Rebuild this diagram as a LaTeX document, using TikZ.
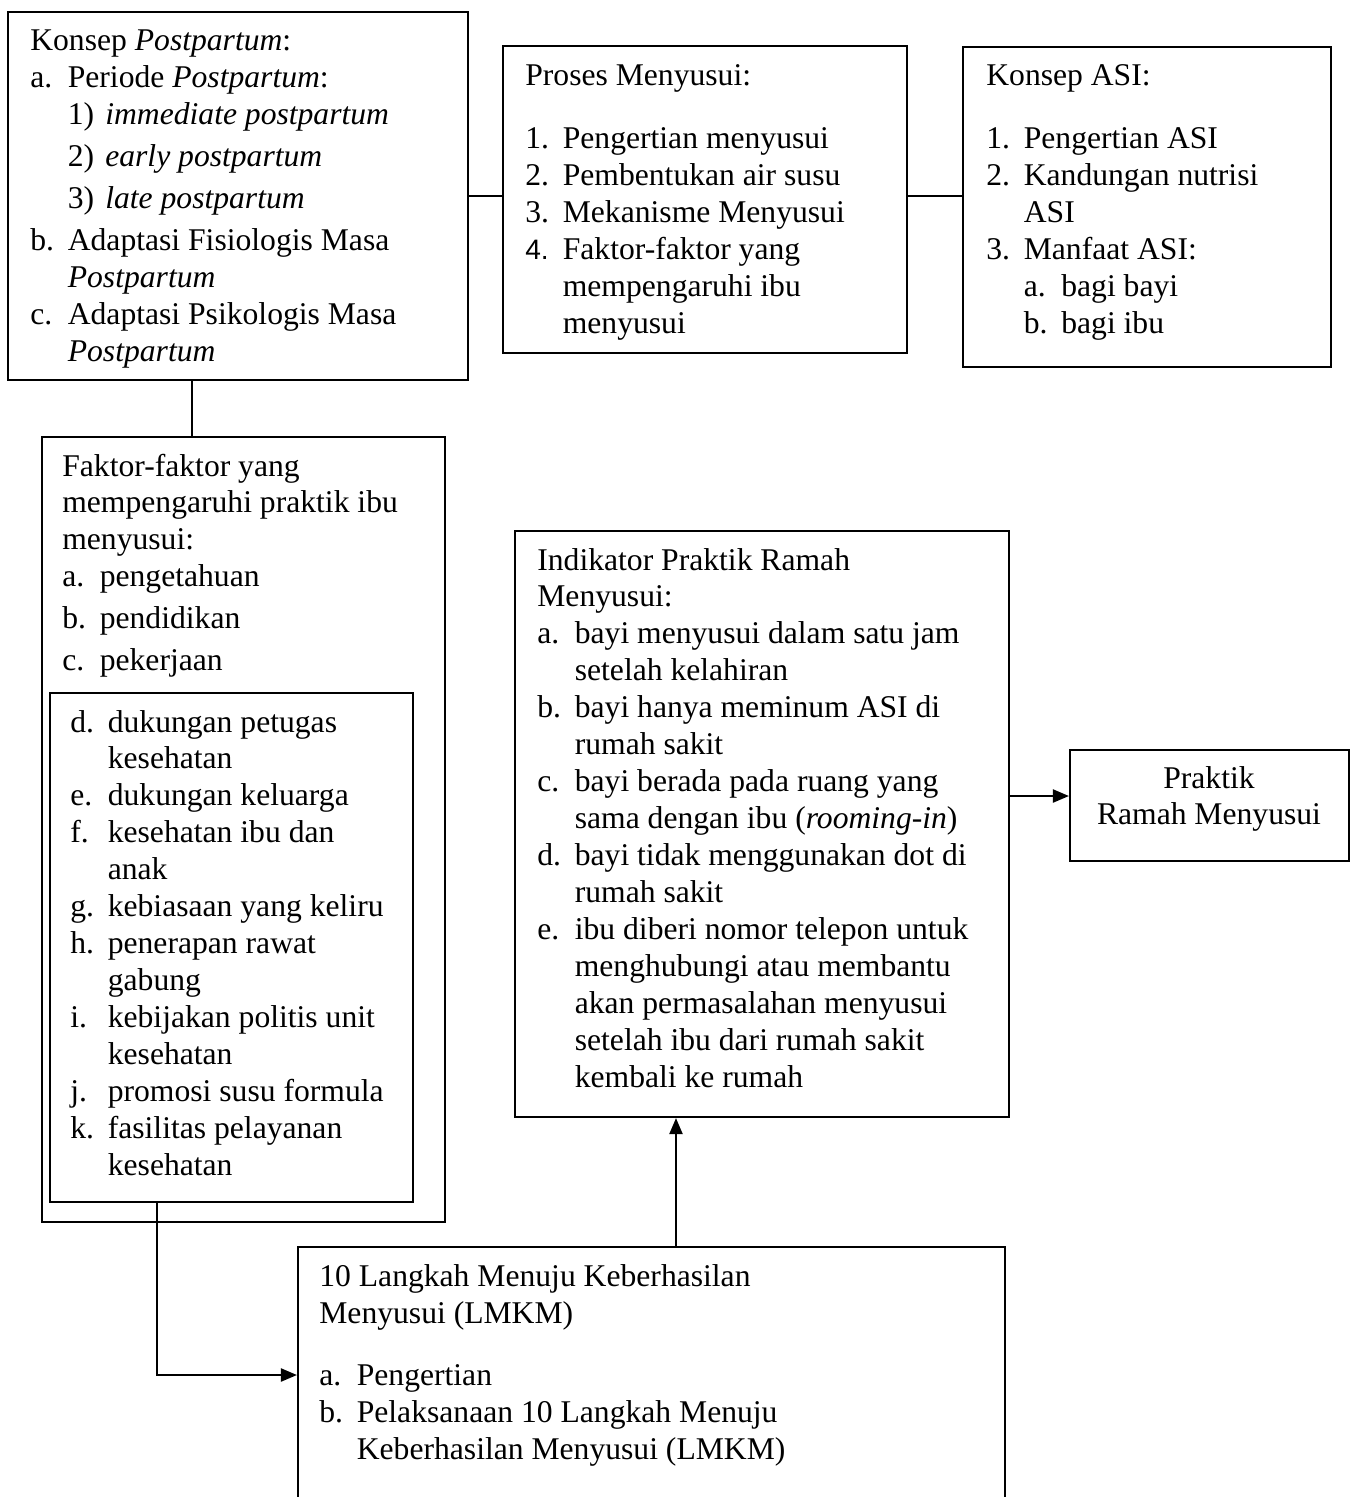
\documentclass[tikz,border=0pt]{standalone}
\usepackage{fontspec}
\setmainfont{Liberation Serif}
\setsansfont{Liberation Sans}
\usetikzlibrary{arrows.meta,fit}
\newcommand{\butir}[2]{\makebox[0.75cm][l]{#1}#2}
\newcommand{\lanjut}[1]{\hspace*{0.75cm}#1}
\newcommand{\isi}[1]{\parbox[t]{16cm}{\fontsize{18}{21.05}\selectfont #1}}

\begin{document}
\begin{tikzpicture}[x=0.02cm, y=-0.02cm,
	kotak/.style={draw, line width=1.2pt, inner sep=0pt, fit={#1}},
	teks/.style={anchor=base west, inner sep=0pt},
	garis/.style={line width=1.2pt},
	panah/.style={line width=1.2pt, -{Triangle[length=0.32cm, width=0.26cm]}}]
	
	\useasboundingbox (0,0) rectangle (1360,1497);
	
	% kotak
	\node[kotak={(8,12) (468,380)}] (konsep) {};
	\node[kotak={(503,46) (907,353)}] (proses) {};
	\node[kotak={(963,47) (1331,367)}] (asi) {};
	\node[kotak={(42,437) (445,1222)}] (faktor) {};
	\node[kotak={(50,693) (413,1202)}] (dalam) {};
	\node[kotak={(515,531) (1009,1117)}] (indikator) {};
	\node[kotak={(1070,750) (1349,861)}] (praktik) {};
	\node[kotak={(298,1247) (1005,1530)}] (lmkm) {};
	
	% isi kotak
	\node[teks] (tkonsep) at (30,51) {\isi{Konsep \textit{Postpartum}:\\
		\butir{a.}{Periode \textit{Postpartum}:}\\
		\lanjut{\butir{1)}{\textit{immediate postpartum}}}\\[0.1cm]
		\lanjut{\butir{2)}{\textit{early postpartum}}}\\[0.1cm]
		\lanjut{\butir{3)}{\textit{late postpartum}}}\\[0.1cm]
		\butir{b.}{Adaptasi Fisiologis Masa}\\
		\lanjut{\textit{Postpartum}}\\
		\butir{c.}{Adaptasi Psikologis Masa}\\
		\lanjut{\textit{Postpartum}}}};
	
	\node[teks] (tproses) at (525,86) {\isi{Proses Menyusui:\\[0.52cm]
		\butir{1.}{Pengertian menyusui}\\
		\butir{2.}{Pembentukan air susu}\\
		\butir{3.}{Mekanisme Menyusui}\\
		\butir{{\sffamily\fontsize{16}{21}\selectfont 4.}}{Faktor-faktor yang}\\
		\lanjut{mempengaruhi ibu}\\
		\lanjut{menyusui}}};
	
	\node[teks] (tasi) at (986,86) {\isi{Konsep ASI:\\[0.52cm]
		\butir{1.}{Pengertian ASI}\\
		\butir{2.}{Kandungan nutrisi}\\
		\lanjut{ASI}\\
		\butir{3.}{Manfaat ASI:}\\
		\lanjut{\butir{a.}{bagi bayi}}\\
		\lanjut{\butir{b.}{bagi ibu}}}};
	
	\node[teks] (tfaktor) at (62,476) {\isi{Faktor-faktor yang\\
		mempengaruhi praktik ibu\\
		menyusui:\\
		\butir{a.}{pengetahuan}\\[0.1cm]
		\butir{b.}{pendidikan}\\[0.1cm]
		\butir{c.}{pekerjaan}}};
	
	\node[teks] (tdalam) at (70,732) {\isi{\butir{d.}{dukungan petugas}\\
		\lanjut{kesehatan}\\
		\butir{e.}{dukungan keluarga}\\
		\butir{f.}{kesehatan ibu dan}\\
		\lanjut{anak}\\
		\butir{g.}{kebiasaan yang keliru}\\
		\butir{h.}{penerapan rawat}\\
		\lanjut{gabung}\\
		\butir{i.}{kebijakan politis unit}\\
		\lanjut{kesehatan}\\
		\butir{j.}{promosi susu formula}\\
		\butir{k.}{fasilitas pelayanan}\\
		\lanjut{kesehatan}}};
	
	\node[teks] (tindikator) at (537,570) {\isi{Indikator Praktik Ramah\\
		Menyusui:\\
		\butir{a.}{bayi menyusui dalam satu jam}\\
		\lanjut{setelah kelahiran}\\
		\butir{b.}{bayi hanya meminum ASI di}\\
		\lanjut{rumah sakit}\\
		\butir{c.}{bayi berada pada ruang yang}\\
		\lanjut{sama dengan ibu (\textit{rooming-in})}\\
		\butir{d.}{bayi tidak menggunakan dot di}\\
		\lanjut{rumah sakit}\\
		\butir{e.}{ibu diberi nomor telepon untuk}\\
		\lanjut{menghubungi atau membantu}\\
		\lanjut{akan permasalahan menyusui}\\
		\lanjut{setelah ibu dari rumah sakit}\\
		\lanjut{kembali ke rumah}}};
	
	\node[anchor=base, inner sep=0pt] (tpraktik) at (1209,788) {\parbox[t]{6cm}{\centering\fontsize{18}{21.05}\selectfont Praktik\\Ramah Menyusui}};
	
	\node[teks] (tlmkm) at (319,1286) {\isi{10 Langkah Menuju Keberhasilan\\
		Menyusui (LMKM)\\[0.52cm]
		\butir{a.}{Pengertian}\\
		\butir{b.}{Pelaksanaan 10 Langkah Menuju}\\
		\lanjut{Keberhasilan Menyusui (LMKM)}}};
	
	% garis penghubung
	\coordinate (c0) at (0,196);
	\coordinate (c1) at (192,0);
	\coordinate (c2) at (157,1375);
	\coordinate (c3) at (676,0);
	\coordinate (c4) at (0,796);
	\draw[garis] (konsep.east |- c0) -- (proses.west |- c0);
	\draw[garis] (proses.east |- c0) -- (asi.west |- c0);
	\draw[garis] (konsep.south -| c1) -- (faktor.north -| c1);
	\draw[panah] (dalam.south -| c2) |- (lmkm.west |- c2);
	\draw[panah] (lmkm.north -| c3) -- (indikator.south -| c3);
	\draw[panah] (indikator.east |- c4) -- (praktik.west |- c4);
	
\end{tikzpicture}
\end{document}
